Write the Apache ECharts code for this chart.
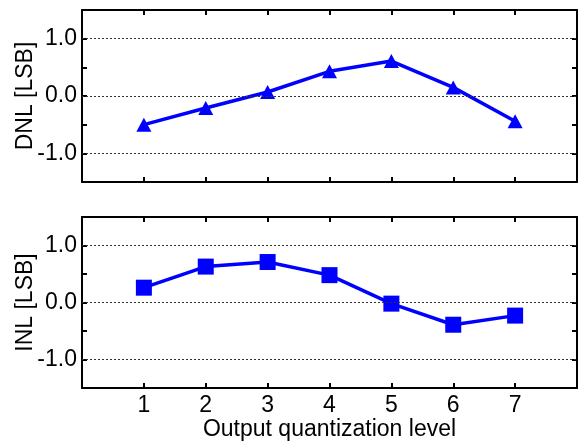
<!DOCTYPE html>
<html>
<head>
<meta charset="utf-8">
<script src="https://cdn.jsdelivr.net/npm/echarts@6/dist/echarts.min.js"></script>
<style>
html, body { margin: 0; padding: 0; background: #fff; }
#chart { width: 580px; height: 444px; }
</style>
</head>
<body>
<div id="chart"></div>
<script>
// values
var levels = [1, 2, 3, 4, 5, 6, 7];
var dnlValues = [-0.50, -0.21, 0.07, 0.43, 0.61, 0.15, -0.44];
var inlValues = [0.26, 0.63, 0.71, 0.48, -0.02, -0.39, -0.23];
var gridValues = [-1, 0, 1];

var fontName = 'Liberation Sans';
var fontSize = 23;
var blue = '#0000ff';

function pairs(vals) {
	var out = [];
	for (var i = 0; i < levels.length; i++) {
		out.push([levels[i], vals[i]]);
	}
	return out;
}

function xAxisFor(gridIndex, pos, showLabels, name) {
	return {
		type: 'value',
		gridIndex: gridIndex,
		position: pos,
		min: 0,
		max: 8,
		interval: 1,
		name: name || '',
		nameLocation: 'middle',
		nameGap: 30,
		nameMoveOverlap: false,
		nameTextStyle: { fontFamily: fontName, fontSize: fontSize, color: '#000' },
		axisLine: { show: true, onZero: false, lineStyle: { color: '#000', width: 2 } },
		axisTick: { show: true, inside: true, length: 5, lineStyle: { color: '#000', width: 2 } },
		axisLabel: {
			show: showLabels,
			margin: 6,
			fontFamily: fontName,
			fontSize: fontSize,
			color: '#000',
			formatter: function (v) { return (v >= 1 && v <= 7) ? String(v) : ''; }
		},
		splitLine: { show: false }
	};
}

function yAxisFor(gridIndex, pos, showLabels, name) {
	return {
		type: 'value',
		gridIndex: gridIndex,
		position: pos,
		min: -1.5,
		max: 1.5,
		interval: 0.5,
		name: name || '',
		nameLocation: 'middle',
		nameGap: 45,
		nameMoveOverlap: false,
		nameTextStyle: { fontFamily: fontName, fontSize: fontSize, color: '#000' },
		axisLine: { show: true, onZero: false, lineStyle: { color: '#000', width: 2 } },
		axisTick: { show: true, inside: true, length: 5, lineStyle: { color: '#000', width: 2 } },
		axisLabel: {
			show: showLabels,
			margin: 5,
			fontFamily: fontName,
			fontSize: fontSize,
			color: '#000',
			formatter: function (v) {
				if (Math.abs(v - Math.round(v)) > 1e-6 || Math.abs(v) > 1.2) return '';
				return v.toFixed(1);
			}
		},
		splitLine: { show: false }
	};
}

var gridMarks = {
	silent: true,
	symbol: 'none',
	label: { show: false },
	lineStyle: { color: '#333', width: 1, type: [2, 2] },
	data: gridValues.map(function (v) { return { yAxis: v }; })
};

var chart = echarts.init(document.getElementById('chart'));
chart.setOption({
	animation: false,
	backgroundColor: '#fff',
	grid: [
		{ left: 82, right: 3, top: 10, height: 172, show: false, outerBoundsMode: 'none', containLabel: false },
		{ left: 82, right: 3, top: 217, height: 171, show: false, outerBoundsMode: 'none', containLabel: false }
	],
	xAxis: [
		xAxisFor(0, 'bottom', false),
		xAxisFor(0, 'top', false),
		xAxisFor(1, 'bottom', true, 'Output quantization level'),
		xAxisFor(1, 'top', false)
	],
	yAxis: [
		yAxisFor(0, 'left', true, 'DNL [LSB]'),
		yAxisFor(0, 'right', false),
		yAxisFor(1, 'left', true, 'INL [LSB]'),
		yAxisFor(1, 'right', false)
	],
	series: [
		{
			name: 'DNL',
			type: 'line',
			xAxisIndex: 0,
			yAxisIndex: 0,
			data: pairs(dnlValues),
			symbol: 'triangle',
			symbolSize: [15, 14],
			lineStyle: { color: blue, width: 3.5 },
			itemStyle: { color: blue },
			markLine: gridMarks,
			z: 3
		},
		{
			name: 'INL',
			type: 'line',
			xAxisIndex: 2,
			yAxisIndex: 2,
			data: pairs(inlValues),
			symbol: 'rect',
			symbolSize: 16,
			lineStyle: { color: blue, width: 3.5 },
			itemStyle: { color: blue },
			markLine: gridMarks,
			z: 3
		}
	]
});
</script>
</body>
</html>
